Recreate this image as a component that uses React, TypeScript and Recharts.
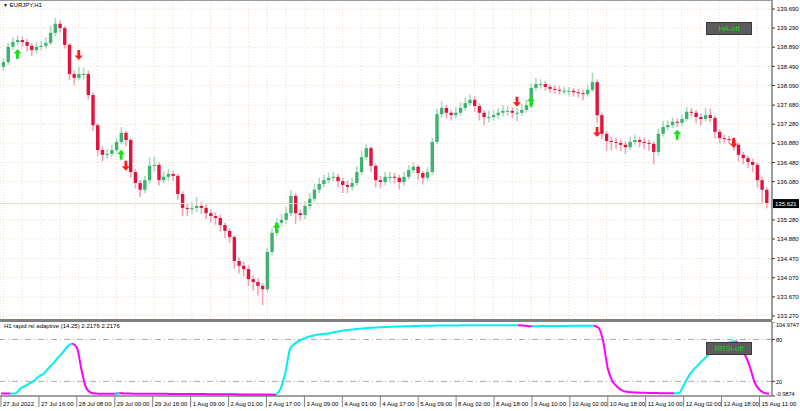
import React from "react";
import {
  ComposedChart,
  Bar,
  Line,
  XAxis,
  YAxis,
  CartesianGrid,
  ReferenceLine,
} from "recharts";

const FONT = "'Liberation Sans', Arial, sans-serif";

const firstOpen = 138.48;

const closes = [
  138.58, 138.9, 139.0, 139.04, 139.0, 138.92, 138.83, 138.9, 138.92, 138.98,
  139.19, 139.38, 139.29, 138.94, 138.33, 138.25, 138.33, 138.33, 137.89, 137.26,
  136.74, 136.64, 136.66, 136.74, 136.91, 137.1, 136.95, 136.28, 136.05, 135.91,
  136.11, 136.41, 136.43, 136.11, 136.18, 136.24, 136.2, 135.82, 135.53, 135.51,
  135.53, 135.57, 135.53, 135.42, 135.36, 135.32, 135.17, 135.05, 134.92, 134.42,
  134.32, 134.25, 134.04, 133.98, 133.9, 133.83, 134.61, 135.01, 135.22, 135.28,
  135.42, 135.78, 135.42, 135.38, 135.57, 135.72, 135.91, 136.03, 136.11, 136.16,
  136.18, 136.09, 136.01, 135.97, 136.05, 136.28, 136.59, 136.78, 136.41, 136.11,
  136.07, 136.18, 136.18, 136.16, 136.07, 136.18, 136.32, 136.39, 136.26, 136.16,
  136.28, 136.91, 137.49, 137.62, 137.52, 137.47, 137.52, 137.62, 137.72, 137.79,
  137.66, 137.52, 137.43, 137.43, 137.47, 137.52, 137.56, 137.56, 137.52, 137.52,
  137.58, 137.68, 138.04, 138.12, 138.12, 138.06, 138.02, 138.0, 137.98, 137.98,
  137.98, 137.95, 137.93, 137.91, 138.0, 138.16, 137.47, 137.08, 136.93, 136.91,
  136.89, 136.85, 136.8, 136.91, 136.95, 136.91, 136.89, 136.87, 136.7, 137.08,
  137.22, 137.26, 137.33, 137.31, 137.39, 137.54, 137.52, 137.43, 137.39, 137.47,
  137.41, 137.12, 136.99, 136.97, 136.95, 136.85, 136.64, 136.57, 136.49, 136.43,
  136.11, 135.91, 135.621,
];

const highs = [
  138.66, 138.98, 139.1, 139.14, 139.12, 139.06, 138.98, 139.0, 139.02, 139.1,
  139.34, 139.5, 139.46, 139.34, 138.98, 138.4, 138.48, 138.46, 138.4, 137.94,
  137.3, 136.82, 136.76, 136.84, 137.0, 137.22, 137.14, 137.0, 136.34, 136.12,
  136.2, 136.58, 136.6, 136.48, 136.3, 136.34, 136.3, 136.24, 135.88, 135.62,
  135.66, 135.76, 135.66, 135.6, 135.5, 135.44, 135.38, 135.22, 135.1, 134.96,
  134.5, 134.4, 134.32, 134.12, 134.06, 133.96, 134.7, 135.1, 135.32, 135.4,
  135.56, 135.9, 135.84, 135.5, 135.66, 135.84, 136.04, 136.16, 136.22, 136.26,
  136.28, 136.24, 136.16, 136.1, 136.16, 136.4, 136.72, 136.86, 136.82, 136.46,
  136.2, 136.28, 136.28, 136.26, 136.22, 136.28, 136.42, 136.48, 136.44, 136.3,
  136.38, 137.0, 137.6, 137.76, 137.68, 137.58, 137.64, 137.74, 137.84, 137.9,
  137.86, 137.72, 137.58, 137.56, 137.58, 137.62, 137.68, 137.66, 137.64, 137.62,
  137.7, 137.8, 138.14, 138.24, 138.22, 138.18, 138.12, 138.1, 138.08, 138.06,
  138.06, 138.04, 138.02, 138.0, 138.1, 138.36, 138.22, 137.52, 137.14, 137.02,
  137.0, 136.96, 136.92, 137.02, 137.06, 137.02, 137.0, 136.96, 136.92, 137.18,
  137.34, 137.36, 137.42, 137.4, 137.48, 137.64, 137.62, 137.58, 137.5, 137.62,
  137.6, 137.46, 137.18, 137.06, 137.04, 137.0, 136.9, 136.7, 136.62, 136.56,
  136.48, 136.18, 135.96,
];

const lows = [
  138.4, 138.52, 138.84, 138.92, 138.9, 138.8, 138.7, 138.76, 138.82, 138.86,
  138.94, 139.12, 139.2, 138.86, 138.2, 138.1, 138.2, 138.22, 137.8, 137.14,
  136.62, 136.5, 136.56, 136.6, 136.68, 136.86, 136.82, 136.16, 135.94, 135.76,
  135.84, 136.04, 136.3, 136.0, 136.04, 136.1, 136.1, 135.7, 135.36, 135.36,
  135.4, 135.44, 135.4, 135.3, 135.22, 135.18, 135.04, 134.9, 134.8, 134.26,
  134.16, 134.1, 133.9, 133.8, 133.7, 133.5, 133.76, 134.54, 134.94, 135.14,
  135.2, 135.36, 135.2, 135.26, 135.3, 135.5, 135.66, 135.84, 135.96, 136.04,
  136.08, 135.96, 135.84, 135.84, 135.9, 136.0, 136.22, 136.52, 136.28, 135.96,
  135.94, 136.0, 136.06, 136.04, 135.92, 136.0, 136.12, 136.26, 136.12, 136.02,
  136.1, 136.22, 136.86, 137.42, 137.4, 137.36, 137.4, 137.46, 137.56, 137.66,
  137.54, 137.36, 137.26, 137.32, 137.36, 137.4, 137.44, 137.46, 137.4, 137.34,
  137.46, 137.52, 137.62, 137.98, 138.02, 137.98, 137.94, 137.92, 137.9, 137.9,
  137.88, 137.86, 137.84, 137.78, 137.86, 137.96, 137.3, 136.96, 136.72, 136.74,
  136.76, 136.72, 136.66, 136.74, 136.84, 136.8, 136.76, 136.72, 136.44, 136.62,
  137.02, 137.16, 137.2, 137.22, 137.24, 137.34, 137.44, 137.3, 137.26, 137.34,
  137.32, 136.98, 136.88, 136.88, 136.86, 136.72, 136.5, 136.44, 136.36, 136.28,
  135.96, 135.62, 135.52,
];

// signal arrows: bar index and price where the arrow sits
const upSignalBars = [3, 25, 58, 112, 143];
const upSignalPrices = [138.75, 136.64, 135.11, 137.75, 137.06];
const downSignalBars = [16, 26, 109, 126, 155];
const downSignalPrices = [138.73, 136.41, 137.75, 137.12, 136.89];

// rapid rsi adaptive
const rsi = [
  2.5, 2.5, 2.5, 2.6, 9, 13, 17, 21, 27, 31,
  38.6, 45.7, 54, 61, 70, 74.3, 68.6, 35.7, 10, 3.6,
  2.5, 2.2, 2.2, 2.2, 2.2, 3.0, 2.6, 2.5, 2.4, 2.4,
  2.3, 2.3, 2.2, 2.2, 2.1, 2.1, 2.0, 2.0, 1.9, 1.9,
  1.8, 1.8, 1.7, 1.7, 1.6, 1.6, 1.5, 1.5, 1.4, 1.4,
  1.3, 1.3, 1.2, 1.2, 1.1, 1.1, 1.0, 1.0, 0.9, 10,
  33, 67, 74, 78.6, 81.4, 84.3, 85.7, 87, 87.9, 88.6,
  89.8, 91.4, 92.6, 93.4, 94.3, 95, 95.7, 96.2, 96.7, 97.1,
  97.5, 97.8, 98.1, 98.3, 98.6, 98.8, 99.0, 99.2, 99.4, 99.5,
  99.6, 99.7, 99.8, 99.9, 100.0, 100.05, 100.1, 100.15, 100.2, 100.22,
  100.25, 100.28, 100.3, 100.33, 100.35, 100.38, 100.4, 100.43, 100.45, 100.5,
  99.8, 99.2, 98.8, 99.0, 99.1, 99.2, 99.25, 99.3, 99.35, 99.4,
  99.45, 99.5, 99.52, 99.55, 99.58, 99.6, 97, 78, 38, 20,
  12, 7, 5, 4.3, 4, 3.7, 3.5, 3.3, 3.2, 3.1,
  3.0, 3.0, 2.9, 3.3, 14, 27, 36, 43, 50, 56.5,
  62, 67, 71, 74, 76.5, 77.6, 68, 57, 40, 18,
  8, 3.5, 2.2176,
];

const timeLabels = [
  "27 Jul 2022", "27 Jul 16:00", "28 Jul 08:00", "29 Jul 00:00", "29 Jul 16:00",
  "1 Aug 09:00", "2 Aug 01:00", "2 Aug 17:00", "3 Aug 09:00", "4 Aug 01:00",
  "4 Aug 17:00", "5 Aug 09:00", "8 Aug 02:00", "8 Aug 18:00", "9 Aug 10:00",
  "10 Aug 02:00", "10 Aug 18:00", "11 Aug 10:00", "12 Aug 02:00", "12 Aug 18:00",
  "15 Aug 11:00",
];

const priceTicks = [
  139.69, 139.29, 138.89, 138.49, 138.09, 137.68, 137.28, 136.88, 136.48,
  136.08, 135.28, 134.88, 134.47, 134.07, 133.67, 133.27,
];
const rsiTicks = [104.9747, 80, 20, -0.9874];
const lastPrice = 135.621;

const labelBars = timeLabels.map((_, k) => k * 8);
const gridBars = closes.map((_, i) => i).filter((i) => i % 4 === 0);

const candles = closes.map((c, i) => {
  const u = upSignalBars.indexOf(i);
  const d = downSignalBars.indexOf(i);
  return {
    i,
    o: i === 0 ? firstOpen : closes[i - 1],
    c,
    range: [lows[i], highs[i]],
    up: u >= 0 ? upSignalPrices[u] : null,
    dn: d >= 0 ? downSignalPrices[d] : null,
  };
});

const rsiRows = rsi.map((v, i) => {
  const rising = (i > 0 && v > rsi[i - 1]) || (i < rsi.length - 1 && rsi[i + 1] > v);
  const falling = (i > 0 && v <= rsi[i - 1]) || (i < rsi.length - 1 && rsi[i + 1] <= v);
  return { i, rsiUp: rising ? v : null, rsiDn: falling ? v : null };
});

function Candle(props: any) {
  const { x, y, width, height, payload } = props;
  const top = Math.min(y, y + height);
  const h = Math.abs(height);
  const [lo, hi] = payload.range;
  const k = h / (hi - lo || 1);
  const bTop = top + (hi - Math.max(payload.o, payload.c)) * k;
  const bBot = top + (hi - Math.min(payload.o, payload.c)) * k;
  const cx = x + width / 2;
  const bull = payload.c >= payload.o;
  return (
    <g>
      <line x1={cx} x2={cx} y1={top} y2={top + h} stroke={bull ? "#a6dcbb" : "#f3a3b6"} strokeWidth={1.6} />
      <rect x={cx - 1.7} y={bTop} width={3.4} height={Math.max(1, bBot - bTop)} fill={bull ? "#3cb371" : "#e2123f"} />
    </g>
  );
}

function UpArrow(props: any) {
  const { cx, cy, value } = props;
  if (value == null || cy == null) return <g key={props.index} />;
  const pts = [
    [cx, cy - 5], [cx + 4, cy - 0.5], [cx + 1.4, cy - 0.5], [cx + 1.4, cy + 5],
    [cx - 1.4, cy + 5], [cx - 1.4, cy - 0.5], [cx - 4, cy - 0.5],
  ].map((p) => p.join(",")).join(" ");
  return <polygon key={props.index} points={pts} fill="#18e018" />;
}

function DownArrow(props: any) {
  const { cx, cy, value } = props;
  if (value == null || cy == null) return <g key={props.index} />;
  const pts = [
    [cx, cy + 5], [cx + 4, cy + 0.5], [cx + 1.4, cy + 0.5], [cx + 1.4, cy - 5],
    [cx - 1.4, cy - 5], [cx - 1.4, cy + 0.5], [cx - 4, cy + 0.5],
  ].map((p) => p.join(",")).join(" ");
  return <polygon key={props.index} points={pts} fill="#ff1c1c" />;
}

function LastPriceLabel(props: any) {
  const vb = props.viewBox;
  const x = vb.x + vb.width + 1;
  return (
    <g>
      <rect x={x} y={vb.y - 4.5} width={26} height={9} fill="#000" />
      <text x={x + 2} y={vb.y + 2.2} fontSize={6} fill="#fff" fontFamily={FONT}>
        {lastPrice.toFixed(3)}
      </text>
    </g>
  );
}

function RsiTick(props: any) {
  const { x, y, payload } = props;
  const v = payload.value;
  const dy = v === rsiTicks[0] ? 4.5 : v === rsiTicks[3] ? 0 : 2.2;
  return (
    <text x={x - 1} y={y + dy} fontSize={5.5} fill="#000" fontFamily={FONT} textAnchor="start">
      {v === 80 || v === 20 ? String(v) : v.toFixed(4)}
    </text>
  );
}

function TimeTick(props: any) {
  const { x, y, payload } = props;
  return (
    <g>
      <line x1={x} x2={x} y1={y} y2={y + 11} stroke="#808080" strokeWidth={1} />
      <text x={x + 2} y={y + 10} fontSize={6} fill="#000" fontFamily={FONT} textAnchor="start">
        {timeLabels[payload.value / 8]}
      </text>
    </g>
  );
}

const btn: React.CSSProperties = {
  position: "absolute",
  left: 706,
  width: 46,
  height: 13,
  background: "#5c5c5c",
  border: "1px solid #3a3a3a",
  boxSizing: "border-box",
  color: "#1ed01e",
  fontFamily: FONT,
  fontSize: 7.5,
  lineHeight: "11px",
  textAlign: "center",
};

export default function App() {
  return (
    <div style={{ position: "fixed", left: 0, top: 0, width: 800, height: 411, background: "#fff", overflow: "hidden" }}>
      <div style={{ position: "absolute", left: 0, top: 0 }}>
        <ComposedChart width={800} height={320} data={candles} margin={{ top: 0, right: 0, bottom: 0, left: 0 }} barCategoryGap={0}>
          <CartesianGrid stroke="#f1dcc4" strokeDasharray="1 2" />
          <XAxis dataKey="i" type="category" hide height={0} ticks={gridBars} interval={0} padding={{ left: 1, right: 3 }} />
          <YAxis
            orientation="right"
            width={28}
            domain={[133.186, 139.878]}
            allowDataOverflow
            ticks={priceTicks}
            interval={0}
            tickSize={3}
            tickMargin={2}
            axisLine={{ stroke: "#404040" }}
            tickLine={{ stroke: "#404040" }}
            tick={{ fontSize: 6, fill: "#000", fontFamily: FONT }}
            tickFormatter={(v: number) => v.toFixed(3)}
          />
          <ReferenceLine y={lastPrice} stroke="#f0dcc6" strokeWidth={1} label={<LastPriceLabel />} />
          <Bar dataKey="range" shape={<Candle />} isAnimationActive={false} />
          <Line dataKey="up" stroke="none" dot={<UpArrow />} activeDot={false} isAnimationActive={false} />
          <Line dataKey="dn" stroke="none" dot={<DownArrow />} activeDot={false} isAnimationActive={false} />
        </ComposedChart>
      </div>

      <div style={{ position: "absolute", left: 0, top: 0, width: 772, height: 1, background: "#9a9a9a" }} />
      <div style={{ position: "absolute", left: 0, top: 319, width: 772, height: 3, background: "#808080" }} />

      <div style={{ position: "absolute", left: 0, top: 322 }}>
        <ComposedChart width={800} height={89} data={rsiRows} margin={{ top: 0, right: 0, bottom: 0, left: 0 }}>
          <XAxis
            dataKey="i"
            type="category"
            height={15}
            ticks={labelBars}
            interval={0}
            tickLine={false}
            tickSize={0}
            tickMargin={0}
            axisLine={{ stroke: "#404040" }}
            tick={<TimeTick />}
            padding={{ left: 1, right: 3 }}
          />
          <YAxis
            orientation="right"
            width={28}
            domain={[-0.9874, 104.9747]}
            allowDataOverflow
            ticks={rsiTicks}
            interval={0}
            tickSize={3}
            tickMargin={2}
            axisLine={{ stroke: "#404040" }}
            tickLine={{ stroke: "#404040" }}
            tick={<RsiTick />}
          />
          <ReferenceLine y={80} stroke="#a8a8a8" strokeDasharray="6 3 1 3" />
          <ReferenceLine y={20} stroke="#a8a8a8" strokeDasharray="6 3 1 3" />
          <Line dataKey="rsiDn" type="monotone" stroke="#ff00ff" strokeWidth={2} dot={false} activeDot={false} connectNulls={false} isAnimationActive={false} />
          <Line dataKey="rsiUp" type="monotone" stroke="#00f0f0" strokeWidth={2} dot={false} activeDot={false} connectNulls={false} isAnimationActive={false} />
        </ComposedChart>
      </div>

      <div style={{ position: "absolute", left: 3, top: 2, fontFamily: FONT, fontSize: 6, color: "#000", whiteSpace: "nowrap" }}>
        <span style={{ fontSize: 5 }}>▼</span> EURJPY,H1
      </div>
      <div style={{ position: "absolute", left: 4, top: 323, fontFamily: FONT, fontSize: 6, color: "#000", whiteSpace: "nowrap" }}>
        H1 rapid rsi adaptive (14.25) 2.2176 2.2176
      </div>
      <div style={{ ...btn, top: 22 }}>HA-off</div>
      <div style={{ ...btn, top: 342 }}>RRSI-off</div>
    </div>
  );
}
